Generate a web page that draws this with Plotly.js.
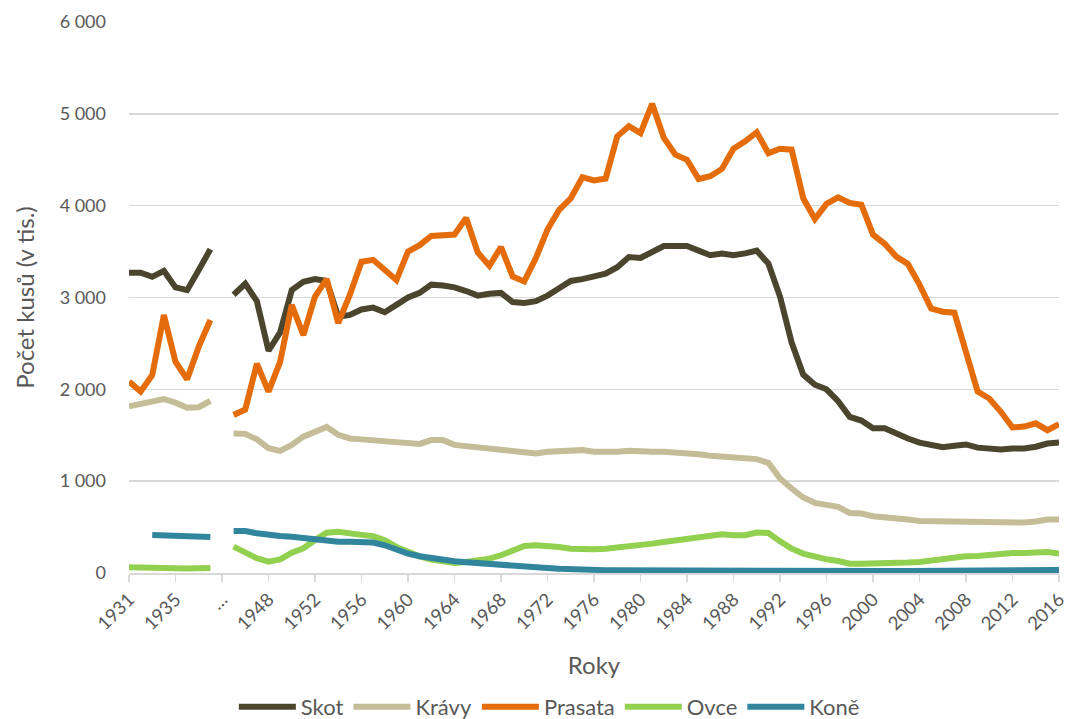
<!DOCTYPE html>
<html>
<head>
<meta charset="utf-8">
<script src="https://cdn.plot.ly/plotly-3.0.1.min.js"></script>
<style>
html,body{margin:0;padding:0;background:#fff;}
#chart{width:1067px;height:719px;}
</style>
</head>
<body>
<div id="chart"></div>
<script>
const categories = ['1931','1932','1933','1934','1935','1936','1937','1938','…',
 '1945','1946','1947','1948','1949','1950','1951','1952','1953','1954','1955','1956','1957','1958','1959',
 '1960','1961','1962','1963','1964','1965','1966','1967','1968','1969','1970','1971','1972','1973','1974',
 '1975','1976','1977','1978','1979','1980','1981','1982','1983','1984','1985','1986','1987','1988','1989',
 '1990','1991','1992','1993','1994','1995','1996','1997','1998','1999','2000','2001','2002','2003','2004',
 '2005','2006','2007','2008','2009','2010','2011','2012','2013','2014','2015','2016'];

const tickLabels = ['1931','1935','…','1948','1952','1956','1960','1964','1968','1972','1976','1980',
 '1984','1988','1992','1996','2000','2004','2008','2012','2016'];

const skot = [3270,3270,3225,3290,3110,3080,3300,3525, null,
 3030,3150,2960,2420,2620,3080,3170,3200,3180,2790,2810,2870,2890,2840,2920,3000,3050,3140,3130,3110,
 3070,3020,3040,3050,2950,2940,2960,3020,3100,3180,3200,3230,3260,3330,3440,3430,3500,3560,3560,3560,
 3510,3460,3480,3460,3480,3510,3370,3010,2510,2160,2050,2000,1870,1700,1660,1575,1575,1515,1465,1420,
 1395,1370,1385,1400,1365,1350,1345,1355,1355,1375,1410,1420];

const kravy = [1815,1845,1860,1895,1855,1800,1805,1875, null,
 1520,1515,1455,1360,1330,1395,1485,1540,1590,1505,1465,1455,1447,1436,1436,1425,1405,1447,1447,1395,
 1382,1367,1356,1345,1327,1310,1302,1320,1331,1338,1338,1320,1318,1320,1331,1320,1320,1320,1313,1309,
 1294,1276,1265,1258,1254,1240,1200,1030,920,822,764,738,720,654,647,618,611,589,582,567,
 564,556,556,560,553,542,542,542,549,560,582,582];

const prasata = [2085,1975,2155,2810,2300,2110,2465,2755, null,
 1720,1780,2280,1975,2300,2920,2590,3010,3200,2720,3030,3390,3410,3300,3190,3500,3570,3670,3675,3685,
 3865,3490,3345,3550,3230,3175,3430,3740,3955,4080,4310,4275,4295,4755,4865,4790,5110,4740,4555,4500,
 4290,4320,4400,4620,4700,4800,4570,4620,4610,4080,3855,4020,4090,4030,4010,3685,3585,3445,3365,3140,
 2880,2845,2835,2430,1975,1900,1755,1585,1595,1630,1555,1620];

const ovce = [62,57,52,50,47,50,52,55, null,
 287,221,160,123,149,221,269,359,439,450,439,415,400,356,284,229,182,145,120,109,
 120,138,156,193,247,295,302,298,284,265,258,258,265,276,291,302,320,338,356,382,
 393,407,422,411,411,440,436,345,265,211,175,149,131,102,102,102,105,109,113,120,
 138,149,167,182,185,200,211,218,218,222,229,211];

const kone = [null,null,414,408,405,398,403,392, null,
 457,457,432,410,403,395,378,359,348,341,341,340,331,302,255,211,182,160,142,127,
 116,105,98,91,84,76,65,55,47,40,36,33,30,30,29,29,28,28,28,28,
 28,28,28,27,27,27,26,25,24,23,22,22,22,22,23,23,22,22,22,23,
 24,25,26,27,28,29,30,31,32,33,33,33];

const seriesNames = ['Skot','Krávy','Prasata','Ovce','Koně'];
const seriesValues = [skot, kravy, prasata, ovce, kone];
const seriesColors = ['#4a452c','#c4bd97','#e46c0a','#92d050','#31859c'];

const FONT = 'Lato, "Open Sans", sans-serif';
const TXT = '#595959';

const traces = seriesNames.map((name, k) => ({
  type: 'scatter',
  mode: 'lines',
  name: name,
  x: categories,
  y: seriesValues[k],
  connectgaps: false,
  line: {color: seriesColors[k], width: 6},
  hoverinfo: 'skip'
}));

const layout = {
  width: 1067,
  height: 719,
  paper_bgcolor: '#ffffff',
  plot_bgcolor: '#ffffff',
  separators: ', ',
  margin: {l: 129, r: 8, t: 22, b: 146, autoexpand: false},
  font: {family: FONT, color: TXT, size: 18},
  showlegend: true,
  legend: {
    orientation: 'h',
    x: 0.452, xanchor: 'center',
    y: -0.243, yanchor: 'middle',
    font: {family: FONT, size: 22, color: TXT},
    itemwidth: 57,
    tracegroupgap: 0
  },
  xaxis: {
    type: 'category',
    categoryorder: 'array',
    categoryarray: categories,
    range: [0, categories.length - 1],
    tickmode: 'array',
    tickvals: tickLabels,
    ticktext: tickLabels,
    tickangle: -45,
    ticks: 'outside',
    ticklen: 7,
    tickcolor: '#d9d9d9',
    tickwidth: 1.5,
    showline: true,
    linecolor: '#d9d9d9',
    linewidth: 1.5,
    showgrid: false,
    zeroline: false,
    tickfont: {family: FONT, size: 18.5, color: TXT},
    title: {text: 'Roky', font: {family: FONT, size: 24, color: TXT}, standoff: 24}
  },
  yaxis: {
    range: [0, 6000],
    tickmode: 'array',
    tickvals: [0, 1000, 2000, 3000, 4000, 5000, 6000],
    tickformat: ',d',
    showgrid: true,
    gridcolor: '#d9d9d9',
    gridwidth: 1.5,
    zeroline: false,
    showline: false,
    ticks: '',
    ticklabelstandoff: 22,
    tickfont: {family: FONT, size: 18, color: TXT},
    title: {text: 'Počet kusů (v tis.)', font: {family: FONT, size: 24, color: TXT}, standoff: 18}
  },
  hovermode: false
};

Plotly.newPlot('chart', traces, layout, {displayModeBar: false, staticPlot: true});
</script>
</body>
</html>
